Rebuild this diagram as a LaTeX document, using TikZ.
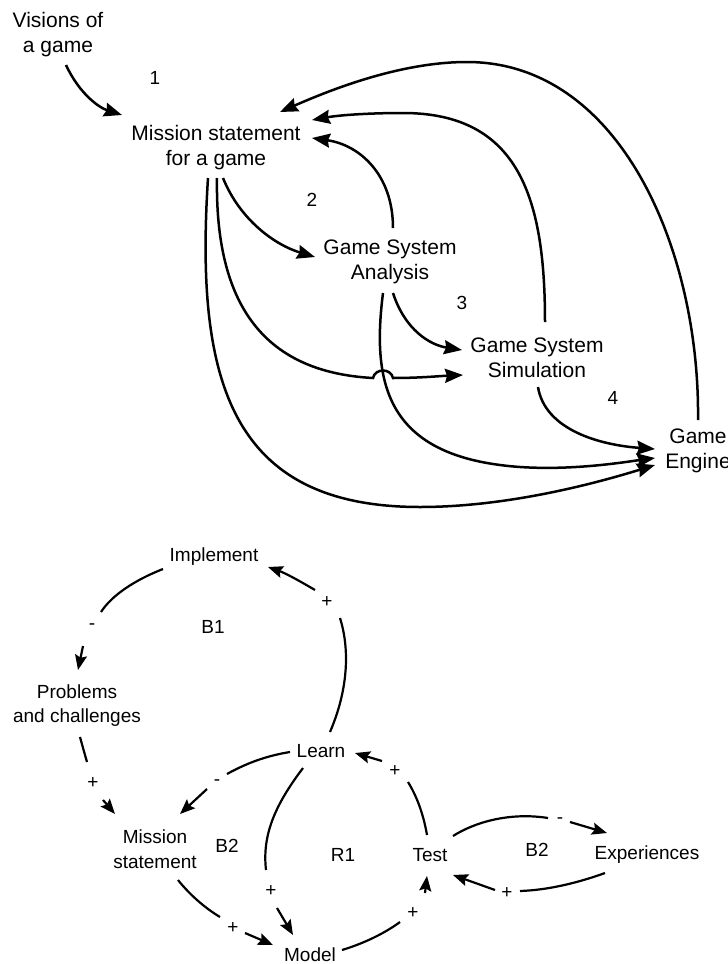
\documentclass[tikz,border=0pt]{standalone}
\usepackage{fontspec}
\setmainfont{Liberation Sans}
\usetikzlibrary{arrows.meta}
\begin{document}
\begin{tikzpicture}[x=1pt,y=-1pt,
  toptxt/.style={font=\fontsize{21}{25}\selectfont, align=center, inner sep=0pt},
  bottxt/.style={font=\fontsize{19}{24.5}\selectfont, align=center, inner sep=0pt},
  numtxt/.style={font=\fontsize{19}{22}\selectfont, inner sep=0pt},
  looptxt/.style={font=\fontsize{19}{22}\selectfont, inner sep=0pt},
  sgn/.style={font=\fontsize{19}{22}\selectfont, inner sep=0pt},
  toparr/.style={line width=2.5pt, -{Stealth[length=18pt,width=14pt,inset=2pt]}},
  botarr/.style={line width=2.2pt, -{Stealth[length=15pt,width=12pt,inset=2.5pt]}},
  botln/.style={line width=2.2pt},
]
\useasboundingbox (0,0) rectangle (728,964);

% ---------- top diagram: nodes ----------
\node[toptxt] (vis) at (58,35) {Visions of\\a game};
\node[toptxt] (mis) at (216,148) {Mission statement\\for a game};
\node[toptxt] (gsa) at (390,262) {Game System\\Analysis};
\node[toptxt] (gss) at (537,358) {Game System\\Simulation};
\node[toptxt] (eng) at (698,451) {Game\\Engine};
\node[numtxt] (n1) at (155,78) {1};
\node[numtxt] (n2) at (312,200) {2};
\node[numtxt] (n3) at (462,303) {3};
\node[numtxt] (n4) at (613,398) {4};

% connector end points
\coordinate (v1) at (66,65);
\coordinate (m1) at (122,115);
\coordinate (m2) at (280,112);
\coordinate (m3) at (312,120);
\coordinate (m4) at (312,138);
\coordinate (m5) at (223,178);
\coordinate (m6) at (217,178);
\coordinate (m7) at (208,178);
\coordinate (a0) at (393,228);
\coordinate (a1) at (315,257);
\coordinate (a2) at (383,293);
\coordinate (a3) at (393,293);
\coordinate (s0) at (545,322);
\coordinate (s1) at (463,375);
\coordinate (s2) at (462,350);
\coordinate (s3) at (538,387);
\coordinate (e0) at (698,420);
\coordinate (e1) at (655,449);
\coordinate (e2) at (655,458);
\coordinate (e3) at (655,465);

% ---------- top diagram: connectors ----------
\draw[toparr] (v1) .. controls (80,95) and (100,108) .. (m1);
\draw[toparr] (e0) .. controls (700,250) and (620,62) .. (467,62)
                   .. controls (400,62) and (330,90) .. (m2);
\draw[toparr] (s0) .. controls (545,200) and (520,113) .. (403,113)
                   .. controls (370,113) and (340,115) .. (m3);
\draw[toparr] (a0) .. controls (393,175) and (360,145) .. (m4);
\draw[toparr] (m5) .. controls (240,220) and (275,245) .. (a1);
\draw[toparr] (m6) .. controls (215,300) and (260,372) .. (373,378)
                   .. controls (375,368) and (391,368) .. (393,378)
                   .. controls (420,378) and (440,376) .. (s1);
\draw[toparr] (m7) .. controls (195,380) and (230,507) .. (420,507)
                   .. controls (510,507) and (600,482) .. (e3);
\draw[toparr] (a2) .. controls (372,380) and (385,450) .. (500,465)
                   .. controls (560,473) and (625,462) .. (e2);
\draw[toparr] (a3) .. controls (405,330) and (430,345) .. (s2);
\draw[toparr] (s3) .. controls (545,430) and (600,445) .. (e1);

% ---------- bottom diagram: nodes ----------
\node[bottxt] (impl) at (214,557) {Implement};
\node[bottxt] (prob) at (77,705.5) {Problems\\and challenges};
\node[bottxt] (learn) at (321,751) {Learn};
\node[bottxt] (mis2) at (155,849) {Mission\\statement};
\node[bottxt] (test) at (430,855) {Test};
\node[bottxt] (exp) at (647,855) {Experiences};
\node[bottxt] (model) at (310,955) {Model};
\node[looptxt] (b1) at (213,627) {B1};
\node[looptxt] (b2a) at (227,846) {B2};
\node[looptxt] (r1) at (343,855) {R1};
\node[looptxt] (b2b) at (537,850) {B2};

% sign labels
\node[sgn] (sg1) at (92,627) {-};
\node[sgn] (sg2) at (327,602) {+};
\node[sgn] (sg3) at (93,783) {+};
\node[sgn] (sg4) at (217,783) {-};
\node[sgn] (sg5) at (271,891) {+};
\node[sgn] (sg6) at (233,928) {+};
\node[sgn] (sg7) at (413,913) {+};
\node[sgn] (sg8) at (395,771) {+};
\node[sgn] (sg9) at (560,821) {-};
\node[sgn] (sg10) at (507,893) {+};

% connector end points
\coordinate (i1) at (163,569);  \coordinate (i2) at (101,612);
\coordinate (i3) at (83,646);   \coordinate (p0) at (78,670);
\coordinate (l1) at (330,732);  \coordinate (l1b) at (340,618);
\coordinate (l1c) at (315,590); \coordinate (i0) at (268,567);
\coordinate (p1) at (80,737);   \coordinate (p1b) at (87,762);
\coordinate (p1c) at (103,800); \coordinate (ms0) at (115,814);
\coordinate (l2) at (290,752);  \coordinate (l2b) at (227,774);
\coordinate (l2c) at (207,789); \coordinate (ms1) at (180,814);
\coordinate (l3) at (303,768);  \coordinate (l3b) at (266,870);
\coordinate (l3c) at (277,908); \coordinate (md0) at (293,935);
\coordinate (ms2) at (178,880); \coordinate (ms2b) at (220,917);
\coordinate (ms2c) at (245,933);\coordinate (md1) at (273,945);
\coordinate (md2) at (342,950); \coordinate (md2b) at (400,922);
\coordinate (md2c) at (425,893);\coordinate (t0) at (427,876);
\coordinate (t1) at (427,835);  \coordinate (t1b) at (408,782);
\coordinate (t1c) at (382,761); \coordinate (l0) at (355,753);
\coordinate (t2) at (453,836);  \coordinate (t2b) at (548,818);
\coordinate (t2c) at (570,822); \coordinate (x0) at (607,833);
\coordinate (x1) at (605,873);  \coordinate (x1b) at (520,891);
\coordinate (x1c) at (495,890); \coordinate (t3) at (453,875);

% ---------- bottom diagram: connectors ----------
\draw[botln] (i1) .. controls (135,580) and (112,595) .. (i2);
\draw[botarr] (i3) -- (p0);
\draw[botln] (l1) .. controls (348,690) and (350,650) .. (l1b);
\draw[botarr] (l1c) .. controls (298,580) and (285,573) .. (i0);
\draw[botln] (p1) .. controls (83,748) and (85,755) .. (p1b);
\draw[botarr] (p1c) -- (ms0);
\draw[botln] (l2) .. controls (265,756) and (245,764) .. (l2b);
\draw[botarr] (l2c) -- (ms1);
\draw[botln] (l3) .. controls (275,805) and (262,835) .. (l3b);
\draw[botarr] (l3c) -- (md0);
\draw[botln] (ms2) .. controls (190,895) and (205,908) .. (ms2b);
\draw[botarr] (ms2c) -- (md1);
\draw[botln] (md2) .. controls (365,943) and (385,933) .. (md2b);
\draw[botarr] (md2c) -- (t0);
\draw[botln] (t1) .. controls (423,812) and (416,795) .. (t1b);
\draw[botarr] (t1c) -- (l0);
\draw[botln] (t2) .. controls (475,822) and (510,812) .. (t2b);
\draw[botarr] (t2c) -- (x0);
\draw[botln] (x1) .. controls (580,882) and (550,890) .. (x1b);
\draw[botarr] (x1c) -- (t3);
\end{tikzpicture}
\end{document}
